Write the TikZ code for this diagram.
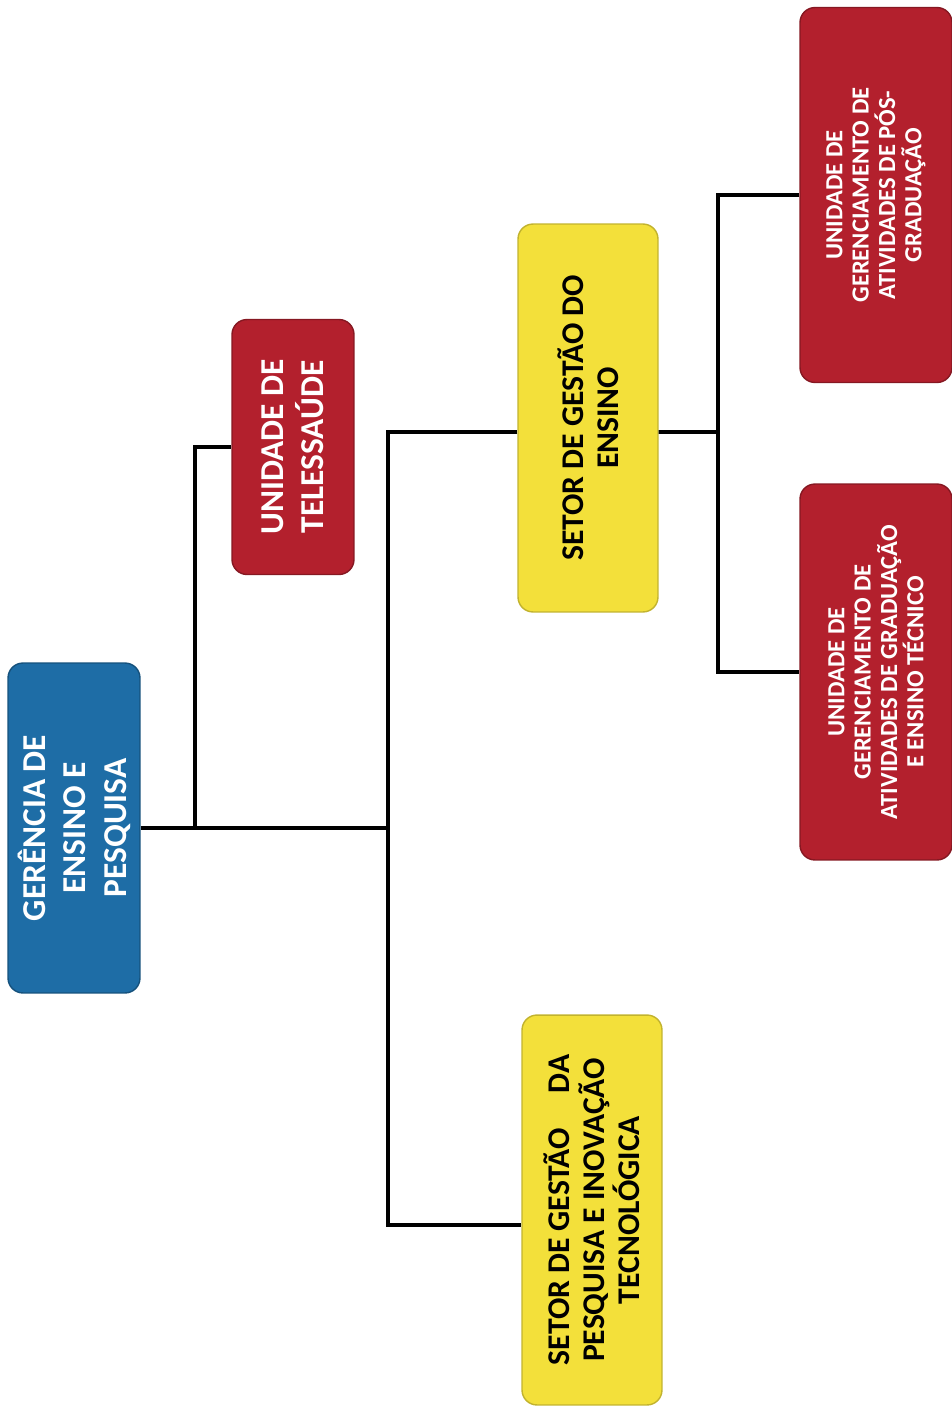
\documentclass[tikz,border=0pt]{standalone}
\usepackage{fontspec}
\setmainfont{Carlito}
\definecolor{gerblue}{HTML}{1E6DA6}
\definecolor{unired}{HTML}{B3202D}
\definecolor{setyellow}{HTML}{F3E03A}
\begin{document}
\begin{tikzpicture}[x=0.02cm,y=-0.02cm,
    orgbox/.style={rotate=90,rounded corners=0.3cm,align=center,inner sep=2pt,line width=0.8pt},
    gerbox/.style={orgbox,fill=gerblue,draw=gerblue!75!black,text=white,
      font=\bfseries\fontsize{19}{23}\selectfont},
    telebox/.style={orgbox,fill=unired,draw=unired!75!black,text=white,
      font=\bfseries\fontsize{19}{23}\selectfont},
    unibox/.style={orgbox,fill=unired,draw=unired!75!black,text=white,
      font=\bfseries\fontsize{14}{15}\selectfont},
    setorbox/.style={orgbox,fill=setyellow,draw=setyellow!80!black,text=black,
      font=\bfseries\fontsize{18}{20}\selectfont},
    link/.style={line width=2.2pt}]
    \useasboundingbox (0,0) rectangle (952,1410);
    \node[gerbox,minimum width=6.6cm,minimum height=2.64cm] (ger) at (74,828)
      {GERÊNCIA DE\\ENSINO E\\PESQUISA};
    \node[telebox,minimum width=5.1cm,minimum height=2.44cm] (tele) at (293,447)
      {UNIDADE DE\\TELESSAÚDE};
    \node[setorbox,minimum width=7.76cm,minimum height=2.8cm] (ens) at (588,418)
      {SETOR DE GESTÃO DO\\ENSINO};
    \node[setorbox,minimum width=7.8cm,minimum height=2.8cm] (pesq) at (592,1210)
      {SETOR DE GESTÃO\hspace{1.1em}DA\\PESQUISA E INOVAÇÃO\\TECNOLÓGICA};
    \node[unibox,minimum width=7.5cm,minimum height=3.04cm] (pos) at (876,195)
      {UNIDADE DE\\GERENCIAMENTO DE\\ATIVIDADES DE PÓS-\\GRADUAÇÃO};
    \node[unibox,minimum width=7.52cm,minimum height=3.04cm] (grad) at (876,672)
      {UNIDADE DE\\GERENCIAMENTO DE\\ATIVIDADES DE GRADUAÇÃO\\E ENSINO TÉCNICO};
    \coordinate (j1) at (195,828);
    \coordinate (j2) at (388,828);
    \coordinate (j3) at (718,432);
    \draw[link] (ger.south) -- (j2);
    \draw[link] (j1) |- (tele.north);
    \draw[link] ([yshift=-0.28cm]ens.north) -| (j2) |- ([yshift=-0.3cm]pesq.north);
    \draw[link] ([yshift=-0.28cm]ens.south) -- (j3);
    \draw[link] (pos.north) -| (j3) |- (grad.north);
\end{tikzpicture}
\end{document}
